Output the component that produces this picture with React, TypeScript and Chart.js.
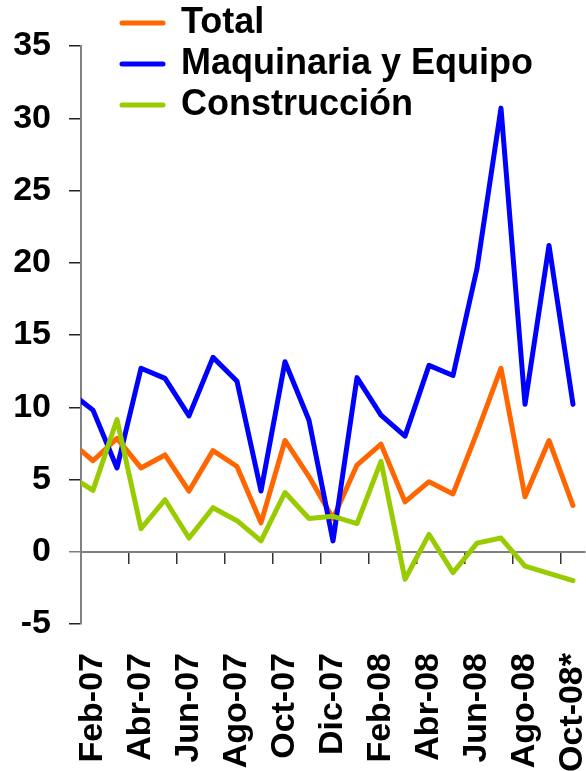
import React, { useEffect, useRef } from 'react';
import { Chart, registerables } from 'chart.js';

Chart.register(...registerables);

const FONT = "'Liberation Sans', Arial, Helvetica, sans-serif";

// Monthly categories (Ene-07 lies just left of the visible range; its segment is clipped at the axis)
const months = [
  'Ene-07', 'Feb-07', 'Mar-07', 'Abr-07', 'May-07', 'Jun-07', 'Jul-07', 'Ago-07', 'Sep-07', 'Oct-07', 'Nov-07', 'Dic-07',
  'Ene-08', 'Feb-08', 'Mar-08', 'Abr-08', 'May-08', 'Jun-08', 'Jul-08', 'Ago-08', 'Sep-08', 'Oct-08',
];

const totalValues = [7.7, 6.3, 7.85, 5.8, 6.7, 4.2, 7.0, 5.9, 2.0, 7.7, 5.2, 2.3, 6.0, 7.45, 3.45, 4.85, 4.0, 8.25, 12.7, 3.8, 7.7, 3.2];
const maquinariaValues = [11.1, 9.8, 5.8, 12.7, 12.0, 9.4, 13.45, 11.8, 4.2, 13.15, 9.1, 0.75, 12.05, 9.45, 8.0, 12.9, 12.2, 19.6, 30.7, 10.2, 21.2, 10.2];
const construccionValues = [5.3, 4.25, 9.15, 1.6, 3.6, 0.95, 3.05, 2.15, 0.75, 4.1, 2.3, 2.45, 1.95, 6.25, -1.9, 1.2, -1.45, 0.6, 0.95, -1.0, -1.5, -2.0];

const tickLabels = ['Feb-07', 'Abr-07', 'Jun-07', 'Ago-07', 'Oct-07', 'Dic-07', 'Feb-08', 'Abr-08', 'Jun-08', 'Ago-08', 'Oct-08*'];
const yTickValues = [-5, 0, 5, 10, 15, 20, 25, 30, 35];

export default function App() {
  const ref = useRef<HTMLCanvasElement>(null);

  useEffect(() => {
    document.body.style.margin = '0';
    if (!ref.current) return;

    const tickIndex = tickLabels.map((l) => months.indexOf(l.replace('*', '')));
    const boundaries = tickIndex.map((i) => i - 0.5);
    const xMin = 0.5;
    const xMax = months.length - 0.5;
    const toPoints = (vals: number[]) => vals.map((y, i) => ({ x: i, y }));

    const legendPlacement = {
      id: 'legendPlacement',
      afterLayout(chart: any) {
        const lg = chart.legend;
        if (!lg) return;
        lg.left = 117;
        lg.top = 0;
        lg.right = lg.left + lg.width;
        lg.bottom = lg.top + lg.height;
      },
    };

    const boldFont = { family: FONT, size: 34, weight: 'bold' as const };

    const chart = new Chart(ref.current, {
      type: 'line',
      data: {
        datasets: [
          { label: 'Total', data: toPoints(totalValues), borderColor: '#FF6600', backgroundColor: '#FF6600', order: 2 },
          { label: 'Maquinaria y Equipo', data: toPoints(maquinariaValues), borderColor: '#0000FF', backgroundColor: '#0000FF', order: 1 },
          { label: 'Construcción', data: toPoints(construccionValues), borderColor: '#99CC00', backgroundColor: '#99CC00', order: 0 },
        ],
      },
      options: {
        responsive: false,
        animation: false,
        devicePixelRatio: 1,
        layout: { padding: { left: 0, right: 1, top: 46, bottom: 0 } },
        elements: {
          line: { borderWidth: 5, tension: 0, borderJoinStyle: 'round', borderCapStyle: 'round', fill: false },
          point: { radius: 0, hoverRadius: 0 },
        },
        plugins: {
          tooltip: { enabled: false },
          legend: {
            position: 'chartArea',
            align: 'start',
            labels: {
              boxWidth: 41,
              boxHeight: 0,
              padding: 5,
              color: '#000',
              font: { family: FONT, size: 36, weight: 'bold' },
              sort: (a: any, b: any) => a.datasetIndex - b.datasetIndex,
            },
          },
        },
        scales: {
          x: {
            type: 'linear',
            position: 'bottom',
            min: xMin,
            max: xMax,
            afterBuildTicks: (s: any) => {
              s.ticks = tickIndex.map((v) => ({ value: v }));
            },
            afterFit: (s: any) => {
              s.height = 147;
              s.paddingLeft = 0;
              s.paddingRight = 0;
            },
            grid: { display: false, drawTicks: false },
            border: { display: false },
            ticks: {
              autoSkip: false,
              maxRotation: 90,
              minRotation: 90,
              padding: 29,
              color: '#000',
              font: { ...boldFont, lineHeight: 1.2 },
              callback: (v: any) => {
                const k = tickIndex.indexOf(Number(v));
                return k >= 0 ? tickLabels[k] : '';
              },
            },
          },
          x2: {
            type: 'linear',
            axis: 'x',
            position: { y: 0 },
            min: xMin,
            max: xMax,
            afterBuildTicks: (s: any) => {
              s.ticks = boundaries.map((v) => ({ value: v }));
            },
            ticks: { display: false },
            grid: { display: true, drawOnChartArea: false, drawTicks: true, tickLength: 11, color: '#333', lineWidth: 1.5 },
            border: { display: true, color: '#808080', width: 2 },
          },
          y: {
            type: 'linear',
            position: 'left',
            min: -5,
            max: 35,
            afterBuildTicks: (s: any) => {
              s.ticks = yTickValues.map((v) => ({ value: v }));
            },
            afterFit: (s: any) => {
              s.width = 81;
            },
            ticks: { padding: 18, color: '#000', font: boldFont },
            grid: {
              drawOnChartArea: false,
              drawTicks: true,
              tickLength: 12,
              lineWidth: 1.5,
              color: (ctx: any) => (ctx.tick && ctx.tick.value === 0 ? '#808080' : '#222'),
            },
            border: { display: true, color: '#808080', width: 2 },
          },
        },
      } as any,
      plugins: [legendPlacement],
    });

    return () => chart.destroy();
  }, []);

  return (
    <div style={{ width: 586, height: 771 }}>
      <canvas ref={ref} width={586} height={771} style={{ display: 'block' }} />
    </div>
  );
}
